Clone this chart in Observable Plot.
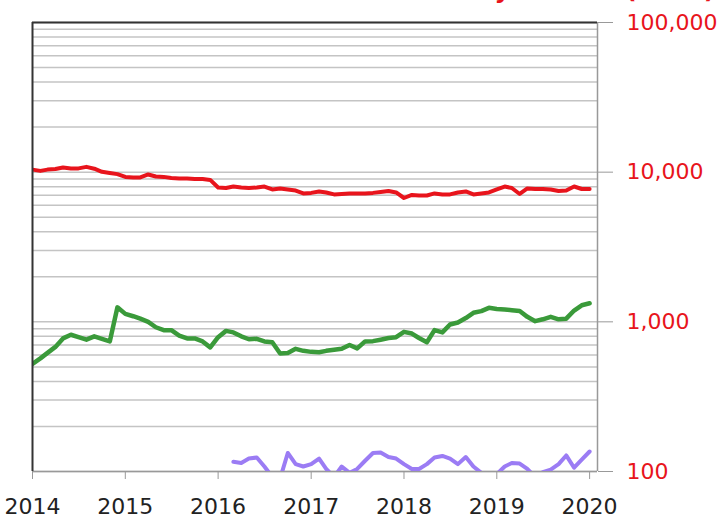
<!DOCTYPE html>
<html><head><meta charset="utf-8">
<script src="https://cdn.jsdelivr.net/npm/d3@7"></script>
<script src="https://cdn.jsdelivr.net/npm/@observablehq/plot@0.6"></script>
<style>
body{margin:0;background:#fff;}
#wrap{position:relative;width:723px;height:520px;overflow:hidden;font-family:"DejaVu Sans",sans-serif;}
#title{position:absolute;right:8px;top:-22px;font-size:24px;font-weight:bold;line-height:24px;color:#e8141c;white-space:nowrap;}
</style></head><body>
<div id="wrap"><div id="title">Daily volume (MWh)</div></div>
<script>
// Monthly series, Jan 2014 .. Jan 2020
const startYear = 2014;
const redValues = [10400,10200,10400,10500,10750,10580,10600,10850,10550,10050,9880,9700,
 9300,9220,9220,9650,9360,9300,9150,9080,9080,9000,9000,8880,
 7900,7840,8020,7900,7840,7900,8020,7660,7780,7660,7540,7210,
 7270,7430,7320,7100,7150,7210,7210,7210,7270,7380,7480,7320,
 6720,7040,6990,6990,7210,7100,7100,7320,7430,7100,7210,7320,
 7660,8020,7840,7150,7780,7720,7720,7660,7480,7540,8020,7720,7720];
const greenValues = [524,570,620,680,775,820,790,760,800,770,740,1250,
 1130,1090,1050,1000,920,880,880,810,775,775,740,675,
 790,870,850,800,765,770,740,730,615,620,660,640,
 630,627,640,650,660,700,665,740,743,760,780,790,
 857,835,780,730,880,850,960,990,1060,1149,1180,1240,
 1220,1210,1195,1180,1080,1010,1040,1080,1040,1050,1190,1290,1330];
const purpleStart = 26; // first month with data (Mar 2016)
const purpleValues = [116,114,122,124,108,92,90,133,112,108,112,122,104,92,108,98,104,118,133,134,125,122,112,104,104,112,124,127,122,112,125,108,98,90,96,108,114,113,104,92,99,103,112,128,106,120,136];
const yearTicks = [2014,2015,2016,2017,2018,2019,2020];
const yTicks = [100,1000,10000,100000];
const yTickLabels = ["100","1,000","10,000","100,000"];

const RED = "#e8141c", GREEN = "#3a9a3a", PURPLE = "#9b7cf4";
const monthDate = i => new Date(Date.UTC(startYear, i, 1));
const rows = [];
redValues.forEach((v,i) => rows.push({series:"red", date: monthDate(i), value: v}));
greenValues.forEach((v,i) => rows.push({series:"green", date: monthDate(i), value: v}));
purpleValues.forEach((v,i) => rows.push({series:"purple", date: monthDate(purpleStart + i), value: v}));

const grid = [];
for (let d = 100; d < 100000; d *= 10) for (let k = 1; k <= 9; k++) grid.push(d*k);
grid.push(100000);

const xStart = new Date(Date.UTC(2014,0,1)), xEnd = new Date(Date.UTC(2020,1,1));
const yearDates = yearTicks.map(y => new Date(Date.UTC(y,0,1)));

const chart = Plot.plot({
  width: 723, height: 520,
  marginLeft: 32, marginRight: 126, marginTop: 22, marginBottom: 49,
  style: {fontFamily: "DejaVu Sans", background: "white", overflow: "visible"},
  x: {type: "utc", domain: [xStart, xEnd], label: null},
  y: {type: "log", domain: [100, 100000], label: null},
  marks: [
    Plot.ruleY(grid, {stroke: "#c4c4c4", strokeWidth: 1.5}),
    Plot.ruleX([xEnd], {stroke: "#999", strokeWidth: 1.5}),
    Plot.ruleY([100], {stroke: "#999", strokeWidth: 1.5}),
    Plot.lineY(rows.filter(d => d.series==="purple"), {x: "date", y: "value", stroke: PURPLE, strokeWidth: 4, clip: true}),
    Plot.lineY(rows.filter(d => d.series==="green"), {x: "date", y: "value", stroke: GREEN, strokeWidth: 4.5, clip: true}),
    Plot.lineY(rows.filter(d => d.series==="red"), {x: "date", y: "value", stroke: RED, strokeWidth: 4, clip: true}),
    Plot.ruleX([xStart], {stroke: "#333", strokeWidth: 2}),
    Plot.ruleY([100000], {stroke: "#333", strokeWidth: 2}),
    Plot.axisX({ticks: yearDates, tickFormat: d => String(d.getUTCFullYear()), tickSize: 8, tickPadding: 19, stroke: "#999", fill: "#222", fontSize: 22, label: null}),
    Plot.axisY({anchor: "right", ticks: yTicks, tickFormat: d => yTickLabels[yTicks.indexOf(d)], tickSize: 15, tickPadding: 14, stroke: "#999", fill: RED, fontSize: 22, label: null})
  ]
});
document.getElementById("wrap").prepend(chart);
</script>
</body></html>
